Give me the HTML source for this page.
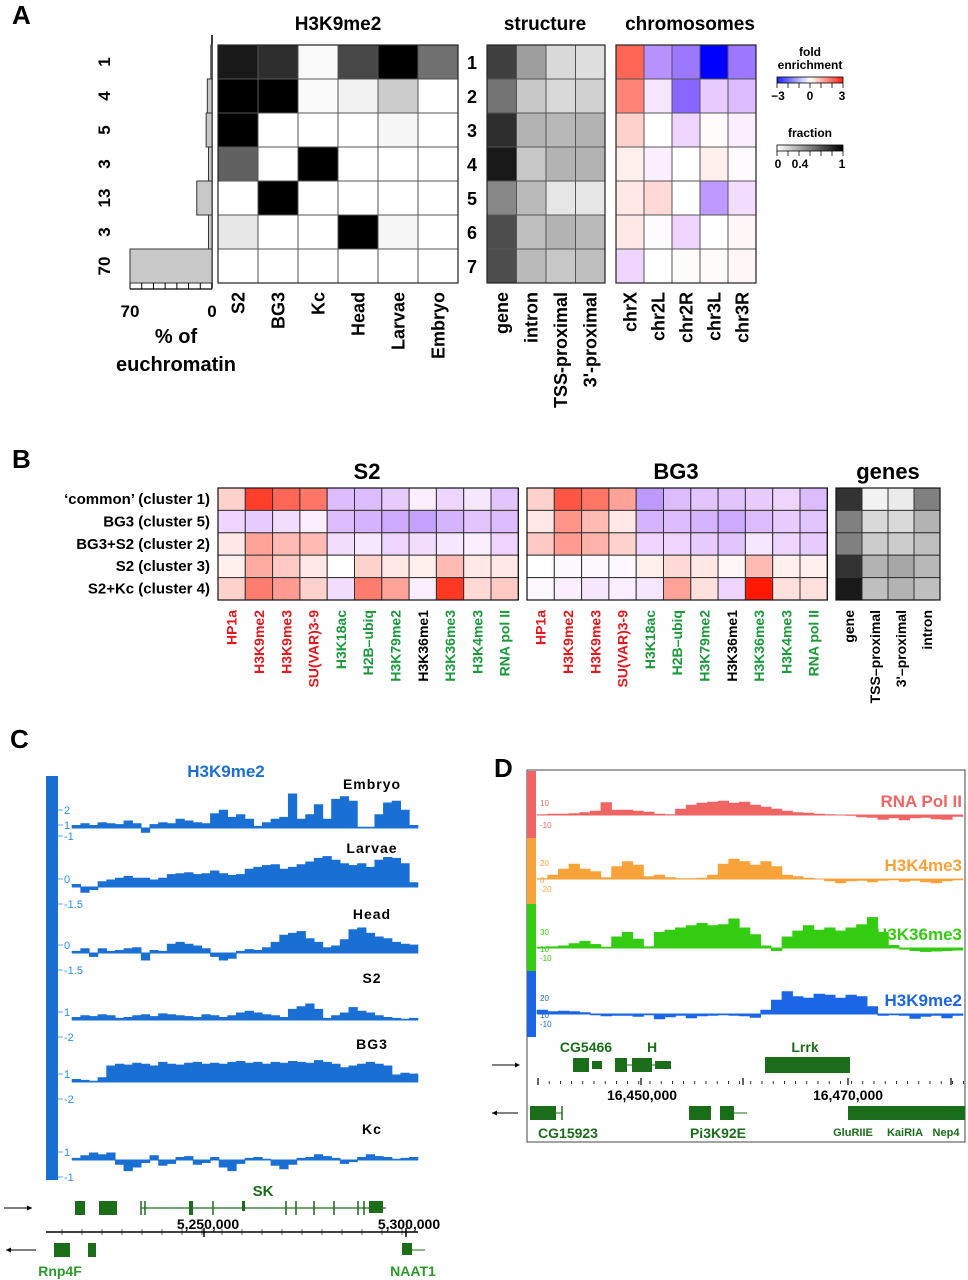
<!DOCTYPE html>
<html><head><meta charset="utf-8">
<style>
html,body{margin:0;padding:0;background:#fff;}
svg{display:block;font-family:"Liberation Sans",Arial,sans-serif;}
.b{font-weight:bold;}
</style></head>
<body>
<svg id="fig" width="968" height="1280" viewBox="0 0 968 1280" xmlns="http://www.w3.org/2000/svg">
<g id="gA"></g>
<g id="gB"></g>
<g id="gC"></g>
<g id="gD"></g>
</svg>
<script>
// ---------- Panel A data ----------
const clusterIds = ["1","2","3","4","5","6","7"];
const euchromatinPct = [1,4,5,3,13,3,70];
const tissues = ["S2","BG3","Kc","Head","Larvae","Embryo"];
const h3k9Frac = [
 [0.9,0.82,0.02,0.72,1.0,0.56],
 [1,1,0.02,0.05,0.2,0],
 [1,0,0,0,0.03,0],
 [0.62,0,1,0,0,0],
 [0,1,0,0,0,0],
 [0.1,0,0,1,0.03,0],
 [0,0,0,0,0,0]];
const structCats = ["gene","intron","TSS-proximal","3'-proximal"];
const structFrac = [
 [0.75,0.38,0.15,0.13],
 [0.55,0.22,0.15,0.18],
 [0.82,0.3,0.28,0.3],
 [0.9,0.22,0.3,0.3],
 [0.47,0.27,0.1,0.1],
 [0.7,0.25,0.3,0.27],
 [0.7,0.27,0.22,0.25]];
const chroms = ["chrX","chr2L","chr2R","chr3L","chr3R"];
const chromFold = [
 [2.0,-1.3,-1.6,-3,-1.6],
 [1.6,-0.3,-1.8,-0.6,-0.8],
 [0.6,0,-0.5,0.05,-0.2],
 [0.2,-0.2,0,0.2,-0.05],
 [0.3,0.5,0,-1.2,-0.4],
 [0.3,-0.05,-0.5,0,0.1],
 [-0.5,0,0.05,0.05,0.1]];
// ---------- Panel B data ----------
const clusterNames = ["\u2018common\u2019 (cluster 1)","BG3 (cluster 5)","BG3+S2 (cluster 2)","S2 (cluster 3)","S2+Kc (cluster 4)"];
const marks = ["HP1a","H3K9me2","H3K9me3","SU(VAR)3-9","H3K18ac","H2B\u2013ubiq","H3K79me2","H3K36me1","H3K36me3","H3K4me3","RNA pol II"];
const markColors = ["#e8161b","#e8161b","#e8161b","#e8161b","#1a9a3a","#1a9a3a","#1a9a3a","#000","#1a9a3a","#1a9a3a","#1a9a3a"];
const s2Fold = [
 [0.6,2.5,2.0,1.8,-0.8,-0.8,-0.6,-0.2,-0.5,-0.3,-0.7],
 [-0.5,-0.6,-0.4,-0.2,-0.8,-0.9,-1.0,-1.1,-0.9,-0.7,-0.8],
 [0.3,1.2,0.9,0.9,-0.4,-0.3,-0.5,-0.4,-0.3,-0.2,-0.5],
 [0.2,1.1,0.7,0.3,0,0.6,0.3,0.2,0.9,0.3,0.3],
 [0.6,1.7,1.3,0.6,-0.4,1.7,1.2,-0.2,2.6,0.5,0.7]];
const bg3Fold = [
 [0.6,2.2,1.8,1.2,-1.2,-0.8,-0.7,-0.7,-0.6,-0.5,-0.8],
 [0.3,1.4,0.9,0.3,-0.9,-0.8,-0.9,-1.0,-0.8,-0.6,-0.7],
 [0.7,1.3,1.0,0.6,-0.5,-0.5,-0.6,-0.7,-0.3,-0.5,-0.6],
 [0,-0.1,-0.1,-0.1,0.2,0.5,0.3,0.1,0.9,0.2,0.2],
 [-0.1,-0.2,-0.3,-0.2,-0.3,1.2,0.4,-0.5,3,0.4,0.4]];
const geneCats = ["gene","TSS\u2013proximal","3'\u2013proximal","intron"];
const geneFrac = [
 [0.8,0.05,0.08,0.5],
 [0.5,0.15,0.15,0.3],
 [0.5,0.2,0.2,0.25],
 [0.8,0.3,0.35,0.28],
 [0.9,0.25,0.3,0.25]];
// ---------- Panel C data ----------
const cTracks = ["Embryo","Larvae","Head","S2","BG3","Kc"];
const embryoSig = [0.3,0.5,0.3,0.6,0.5,0.4,0.8,0.5,-0.5,0.4,0.6,0.5,1.0,0.8,0.6,0.5,1.6,2.0,1.2,1.5,1.0,0.2,0.6,1.0,1.2,3.8,1.0,1.5,2.6,1.0,3.2,3.5,3.0,0.1,0.1,1.5,2.8,3.0,2.0,0.3];
const larvaeSig = [0.3,-0.6,-0.3,0.6,0.8,1.0,1.2,1.0,1.0,0.8,1.0,1.4,1.5,1.6,1.4,1.5,1.8,1.5,1.3,1.4,2.0,2.2,2.4,2.5,2.0,2.2,2.5,2.8,3.2,3.4,3.0,2.6,2.4,2.6,2.2,3.0,3.3,3.2,2.6,0.5];
const headSig = [0.2,0.5,-0.4,0.5,0.2,0.3,0.5,0.6,-0.8,0.3,0.2,1.0,1.2,1.0,0.8,0.5,-0.4,-0.8,-0.6,0.2,0.4,0.3,0.6,1.2,2.0,2.2,2.4,1.6,1.2,0.6,0.8,1.5,2.6,2.8,2.2,1.8,1.6,1.2,1.0,0.9];
const s2Sig = [0.3,0.5,0.4,0.6,0.5,0.2,0.3,0.5,0.6,0.4,0.7,0.6,0.5,0.4,0.3,0.6,0.5,0.3,0.5,0.8,1.0,0.8,0.6,0.5,0.3,1.2,1.5,1.8,1.2,0.2,0.5,0.8,1.4,1.0,0.8,0.5,0.3,0.2,0.1,0.2];
const bg3Sig = [0.3,0.2,0.1,0.5,1.8,2.0,1.9,2.1,2.0,1.8,2.2,2.0,1.9,2.1,2.2,2.0,2.1,2.0,2.2,2.3,2.1,2.2,2.0,2.2,2.1,2.3,2.2,2.1,2.4,2.2,2.0,1.6,1.8,2.0,2.2,2.0,1.8,0.8,1.0,0.9];
const kcSig = [0.2,0.5,0.8,0.6,0.8,-0.5,-1.2,-0.8,-0.3,0.5,-0.6,-0.4,0.3,0.4,-0.5,-0.3,0.3,-0.8,-1.2,-0.4,0.2,0.3,0.1,-0.6,-1.0,-0.5,0.2,0.3,0.6,0.4,0.2,-0.4,-0.2,0.3,0.6,0.4,0.3,0.1,0.2,0.3];
const cTickLabels = [["2","1","-1"],["0","-1.5"],["0","-1.5"],["1","-2"],["1","-2"],["1","-1"]];
// ---------- Panel D data ----------
const dTracks = ["RNA Pol II","H3K4me3","H3K36me3","H3K9me2"];
const polSig = [0.1,0.2,0.2,0.3,0.5,0.8,2.5,1.0,1.0,0.8,0.6,0.2,0.1,1.2,2.0,2.4,2.6,2.8,2.4,2.6,2.0,1.6,1.2,0.8,0.5,0.4,0.2,0.1,0,-0.1,-0.4,-0.5,-0.9,-0.6,-1.0,-0.6,-0.5,-0.8,-0.9,-0.3];
const k4Sig = [0.1,0.8,2.0,3.0,2.0,1.5,0.3,2.5,3.5,2.8,0.5,0.8,0.3,0.1,0.1,0.2,0.8,3.0,4.0,3.5,2.8,3.5,2.5,0.8,0.5,0.2,0,-0.4,-0.8,-0.4,-0.3,-0.6,-0.3,-0.2,-0.5,-0.3,-0.6,-0.8,-0.4,-0.2];
const k36Sig = [0.2,0.3,0.5,1.0,1.5,0.8,0.2,2.5,3.5,2.0,0.3,3.5,4.0,4.5,5.0,5.5,5.0,5.2,6.5,4.5,3.0,0.5,-0.6,2.5,3.8,5.0,4.0,4.5,3.8,4.5,5.2,6.8,3.5,0.6,-0.3,-0.6,-0.8,-0.7,-0.6,-0.5];
const k9Sig = [0.8,0.5,0.6,0.5,0.3,-0.2,-0.4,-0.3,-0.3,-0.5,-0.2,-1.0,-0.6,-0.3,-0.8,-0.4,-0.3,-0.2,-0.3,-0.4,-0.7,0.8,2.8,4.5,3.5,3.2,4.0,3.8,3.2,3.8,3.5,1.5,-0.3,-0.2,-0.3,-0.9,-0.5,-0.3,-0.8,-0.3];

const NS="http://www.w3.org/2000/svg";
function mk(parent,tag,attrs,text){const e=document.createElementNS(NS,tag);for(const k in attrs)e.setAttribute(k,attrs[k]);if(text!==undefined)e.textContent=text;parent.appendChild(e);return e;}
function gray(f){const v=Math.round(255*(1-f));return `rgb(${v},${v},${v})`;}
function foldCol(v){const t=Math.max(-1,Math.min(1,v/3));
 if(t>=0){return `rgb(255,${Math.round(255-230*t)},${Math.round(255-255*t)})`;}
 const s=-t;return `rgb(${Math.round(255*(1-Math.pow(s,1.5)))},${Math.round(255-255*s)},255)`;}

// ================= PANEL A =================
const A=document.getElementById('gA');
let t=mk(A,'text',{x:12,y:24,'font-size':26,class:'b'},'A');

const aTop=45,rowH=34;
function heat(g,x0,w,vals,colfn,name){
 vals.forEach((row,r)=>row.forEach((v,c)=>{
  const e=mk(g,'rect',{x:x0+c*w,y:aTop+r*rowH,width:w,height:rowH,fill:colfn(v),stroke:'#555','stroke-width':1});
  
  
 }));
 mk(g,'rect',{x:x0,y:aTop,width:w*vals[0].length,height:rowH*vals.length,fill:'none',stroke:'#222','stroke-width':1.2});
}
heat(A,218,40,h3k9Frac,gray,'h3k9me2');
heat(A,487,29.5,structFrac,gray,'structure');
heat(A,616,28,chromFold,foldCol,'chromosome');
[['H3K9me2',338],['structure',545],['chromosomes',690]].forEach(([s,x])=>{
 const e=mk(A,'text',{x:x,y:30,'font-size':19,'text-anchor':'middle',class:'b'},s);
 });
clusterIds.forEach((s,i)=>{const e=mk(A,'text',{x:467,y:aTop+i*rowH+24,'font-size':18,class:'b'},s);
 });
function colLabels(g,x0,w,labs,yTop,fs,colors){labs.forEach((s,i)=>{const x=x0+i*w+w/2+fs*0.35;
 const e=mk(g,'text',{x:x,y:yTop,'font-size':fs,'text-anchor':'end',class:'b',fill:colors?colors[i]:'#000',transform:`rotate(-90 ${x} ${yTop})`},s);
 });}
colLabels(A,218,40,tissues,292,18);
colLabels(A,487,29.5,structCats,292,18);
colLabels(A,616,28,chroms,292,18);
// histogram
const hx0=212,hx70=130;const hX=v=>hx0-(hx0-hx70)*v/70;
mk(A,'line',{x1:hx0,y1:aTop-10,x2:hx0,y2:aTop+7*rowH+5,stroke:'#000','stroke-width':1.5});
euchromatinPct.forEach((v,i)=>{
 const e=mk(A,'rect',{x:hX(v),y:aTop+i*rowH,width:hx0-hX(v),height:rowH,fill:'#c8c8c8',stroke:'#333','stroke-width':1});
 
 const x=110,y=aTop+i*rowH+rowH/2;
 const l=mk(A,'text',{x:x,y:y,'font-size':17,'text-anchor':'middle',class:'b',transform:`rotate(-90 ${x} ${y})`},String(v));
 
});
mk(A,'line',{x1:hx70,y1:289,x2:hx0,y2:289,stroke:'#000','stroke-width':1.2});
for(let v=0;v<=70;v+=10){mk(A,'line',{x1:hX(v),y1:283,x2:hX(v),y2:289,stroke:'#000','stroke-width':1});}
[[70,'70'],[0,'0']].forEach(([v,s])=>{const e=mk(A,'text',{x:hX(v),y:317,'font-size':17,'text-anchor':'middle',class:'b'},s);
 });
t=mk(A,'text',{x:176,y:343,'font-size':20,'text-anchor':'middle',class:'b'},'% of');
t=mk(A,'text',{x:176,y:371,'font-size':20,'text-anchor':'middle',class:'b'},'euchromatin');
// legends
const defs=mk(document.getElementById('fig'),'defs',{});
const g1=mk(defs,'linearGradient',{id:'gf'});mk(g1,'stop',{offset:'0','stop-color':'#2020ff'});mk(g1,'stop',{offset:'0.5','stop-color':'#fff'});mk(g1,'stop',{offset:'1','stop-color':'#ff2010'});
const g2=mk(defs,'linearGradient',{id:'gg'});mk(g2,'stop',{offset:'0','stop-color':'#fff'});mk(g2,'stop',{offset:'1','stop-color':'#000'});
function legend(y,title,grad,labs,name){
 const lg=mk(A,'g',{});
 title.forEach((s,i)=>mk(lg,'text',{x:810,y:y+i*13,'font-size':12,'text-anchor':'middle',class:'b'},s));
 const by=y+(title.length-1)*13+8;
 mk(lg,'rect',{x:777,y:by,width:66,height:6,fill:`url(#${grad})`,stroke:'#000','stroke-width':0.8});
 for(let k=0;k<=6;k++)mk(lg,'line',{x1:777+k*11,y1:by+6,x2:777+k*11,y2:by+11,stroke:'#000','stroke-width':0.8});
 labs.forEach(([x,s])=>mk(lg,'text',{x:x,y:by+23,'font-size':12,'text-anchor':'middle',class:'b'},s));
}
legend(56,['fold','enrichment'],'gf',[[778,'\u22123'],[810,'0'],[842,'3']],'fold-legend');
legend(137,['fraction'],'gg',[[778,'0'],[800,'0.4'],[842,'1']],'fraction-legend');

// ================= PANEL B =================
const B=document.getElementById('gB');
t=mk(B,'text',{x:12,y:468,'font-size':26,class:'b'},'B');
const bTop=488,bRow=22.4;
function heatB(x0,w,vals,colfn,name){vals.forEach((row,r)=>row.forEach((v,c)=>{
 const e=mk(B,'rect',{x:x0+c*w,y:bTop+r*bRow,width:w,height:bRow,fill:colfn(v),stroke:'#333','stroke-width':1});
 }));
 mk(B,'rect',{x:x0,y:bTop,width:w*vals[0].length,height:bRow*vals.length,fill:'none',stroke:'#111','stroke-width':1.2});}
heatB(218,27.3,s2Fold,foldCol,'s2');
heatB(527,27.3,bg3Fold,foldCol,'bg3');
heatB(836,26,geneFrac,gray,'genes');
[['S2',367],['BG3',676],['genes',888]].forEach(([s,x])=>{const e=mk(B,'text',{x:x,y:479,'font-size':22,'text-anchor':'middle',class:'b'},s);
 });
clusterNames.forEach((s,i)=>{const e=mk(B,'text',{x:210,y:bTop+i*bRow+16,'font-size':15,'text-anchor':'end',class:'b'},s);
 });
function colB(x0,w,labs,colors){labs.forEach((s,i)=>{const x=x0+i*w+w/2+5;const y=610;
 const e=mk(B,'text',{x:x,y:y,'font-size':14,'text-anchor':'end',class:'b',fill:colors?colors[i]:'#000',transform:`rotate(-90 ${x} ${y})`},s);
 });}
colB(218,27.3,marks,markColors);colB(527,27.3,marks,markColors);colB(836,26,geneCats);

// ================= PANEL C =================
const C=document.getElementById('gC');
t=mk(C,'text',{x:10,y:748,'font-size':26,class:'b'},'C');
t=mk(C,'rect',{x:46,y:776,width:12,height:404,fill:'#1a6fd4'});
t=mk(C,'text',{x:226,y:777,'font-size':17,'text-anchor':'middle',class:'b',fill:'#1a6fd4'},'H3K9me2');
const cSigs=[embryoSig,larvaeSig,headSig,s2Sig,bg3Sig,kcSig];
const cBase=[828,887,953,1020,1082,1160],cLab=[[372,789],[372,853],[372,919],[372,983],[372,1049],[372,1134]];
const cx0=72,cx1=418,cUnit=9;
function drawArea(g,sig,x0,x1,base,unit,col,name){
 const n=sig.length,dx=(x1-x0)/n;let d=`M${x0},${base}`;
 sig.forEach((v,i)=>{const y=base-v*unit;d+=` L${x0+i*dx},${y} L${x0+(i+1)*dx},${y}`;});
 d+=` L${x1},${base} Z`;
 const p=mk(g,'path',{d:d,fill:col,stroke:col,'stroke-width':0.6});
 
 
 mk(g,'line',{x1:x0,y1:base,x2:x1,y2:base,stroke:col,'stroke-width':1});
}
cTracks.forEach((nm,i)=>{
 drawArea(C,cSigs[i],cx0,cx1,cBase[i],cUnit,'#1a6fd4',nm.toLowerCase()+'-signal');
 const e=mk(C,'text',{x:cLab[i][0],y:cLab[i][1],'font-size':14,'text-anchor':'middle',class:'b','letter-spacing':1},nm);
 
 cTickLabels[i].forEach((s,k)=>{const y=k===0?cBase[i]-(i===0?18:8):cBase[i]+(i===0?(k===1?-3:8):17);
  const tl=mk(C,'text',{x:64,y:y+4,'font-size':11,fill:'#2a8fe8'},s);
  mk(C,'line',{x1:58,y1:y,x2:63,y2:y,stroke:'#2a8fe8','stroke-width':0.8});});
});
// genes C
const GC='#1a6e1a';
function arrow(g,y,dir){const x1=dir>0?4:36,x2=dir>0?32:6;
 mk(g,'line',{x1:x1,y1:y,x2:x2,y2:y,stroke:'#000','stroke-width':1});
 mk(g,'path',{d:dir>0?`M${x2},${y} l-5,-2.5 l0,5 z`:`M${x2},${y} l5,-2.5 l0,5 z`,fill:'#000'});}
const gcg=mk(C,'g',{});
arrow(gcg,1208,1);arrow(gcg,1250,-1);
[[75,1201,10,14],[99,1201,18,14],[189,1201,4,14],[242,1201,3,10],[369,1201,14,12]].forEach(([x,y,w,h])=>mk(gcg,'rect',{x:x,y:y,width:w,height:h,fill:GC}));
mk(gcg,'line',{x1:141,y1:1208,x2:386,y2:1208,stroke:GC,'stroke-width':1.2});
[141,145,213,286,296,314,334,358,364].forEach(x=>mk(gcg,'line',{x1:x,y1:1201,x2:x,y2:1215,stroke:GC,'stroke-width':1.5}));
mk(gcg,'text',{x:263,y:1196,'font-size':15,'text-anchor':'middle',class:'b',fill:GC},'SK');
mk(gcg,'line',{x1:46,y1:1232,x2:418,y2:1232,stroke:'#000','stroke-width':1.5});
for(let x=62;x<418;x+=20)mk(gcg,'line',{x1:x,y1:1229,x2:x,y2:1235,stroke:'#000','stroke-width':0.6});
mk(gcg,'line',{x1:204,y1:1228,x2:204,y2:1237,stroke:'#000','stroke-width':1.5});
mk(gcg,'line',{x1:406,y1:1228,x2:406,y2:1237,stroke:'#000','stroke-width':1.5});
mk(gcg,'text',{x:208,y:1229,'font-size':14,'text-anchor':'middle',class:'b'},'5,250,000');
mk(gcg,'text',{x:409,y:1229,'font-size':14,'text-anchor':'middle',class:'b'},'5,300,000');
[[54,1243,16,14],[88,1243,8,14],[402,1243,10,12]].forEach(([x,y,w,h])=>mk(gcg,'rect',{x:x,y:y,width:w,height:h,fill:GC}));
mk(gcg,'line',{x1:402,y1:1250,x2:425,y2:1250,stroke:GC,'stroke-width':1});
mk(gcg,'text',{x:60,y:1276,'font-size':14,'text-anchor':'middle',class:'b',fill:'#2a9a2a'},'Rnp4F');
mk(gcg,'text',{x:413,y:1276,'font-size':14,'text-anchor':'middle',class:'b',fill:'#2a9a2a'},'NAAT1');

// ================= PANEL D =================
const D=document.getElementById('gD');
t=mk(D,'text',{x:494,y:777,'font-size':26,class:'b'},'D');
t=mk(D,'rect',{x:527,y:770,width:438,height:372,fill:'none',stroke:'#444','stroke-width':1});
const dCols=['#f06464','#f8a23a','#33cc11','#1a66e6'];
const dSigs=[polSig,k4Sig,k36Sig,k9Sig];
const dBase=[815,879,948,1014],dUnit=[5,5,4.5,5];
const dBand=[[771,838],[838,904],[904,971],[971,1037]];
const dTicks=[['10','-10'],['20','0','-20'],['30','10','-10'],['20','10','-10']];
dTracks.forEach((nm,i)=>{
 mk(D,'rect',{x:527,y:dBand[i][0],width:9,height:dBand[i][1]-dBand[i][0],fill:dCols[i]});
 drawArea(D,dSigs[i],537,963,dBase[i],dUnit[i],dCols[i],nm.toLowerCase().replace(/ /g,'-')+'-signal');
 const e=mk(D,'text',{x:962,y:dBase[i]-8,'font-size':17,'text-anchor':'end',class:'b',fill:dCols[i]},nm);
 
 dTicks[i].forEach((s,k)=>{const n=dTicks[i].length;const y=k===n-1?dBase[i]+10:dBase[i]-(n===3?(k===0?16:0):(k===0?12:0))-(n===3&&k===1?-1:0);
  const tl=mk(D,'text',{x:540,y:y+3,'font-size':8,fill:dCols[i]},s);});
});
const gdg=mk(D,'g',{});
const GD='#1a6e1a';
mk(gdg,'line',{x1:492,y1:1065,x2:518,y2:1065,stroke:'#000','stroke-width':1});mk(gdg,'path',{d:'M520,1065 l-5,-2.5 l0,5 z',fill:'#000'});
mk(gdg,'line',{x1:518,y1:1113,x2:492,y2:1113,stroke:'#000','stroke-width':1});mk(gdg,'path',{d:'M492,1113 l5,-2.5 l0,5 z',fill:'#000'});
[[573,1058,16,14],[592,1061,10,8],[615,1058,12,14],[632,1058,20,14],[655,1061,16,8],[765,1057,85,16],[530,1106,26,14],[689,1106,22,14],[720,1106,14,14],[848,1106,117,14]].forEach(([x,y,w,h])=>mk(gdg,'rect',{x:x,y:y,width:w,height:h,fill:GD}));
mk(gdg,'line',{x1:626,y1:1065,x2:655,y2:1065,stroke:GD,'stroke-width':1});
mk(gdg,'line',{x1:556,y1:1113,x2:562,y2:1113,stroke:GD,'stroke-width':1});mk(gdg,'line',{x1:562,y1:1106,x2:562,y2:1120,stroke:GD,'stroke-width':1.5});
mk(gdg,'line',{x1:734,y1:1113,x2:747,y2:1113,stroke:GD,'stroke-width':1});
[['CG5466',586,1052],['H',652,1052],['Lrrk',805,1052]].forEach(([s,x,y])=>mk(gdg,'text',{x:x,y:y,'font-size':14,'text-anchor':'middle',class:'b',fill:GD},s));
for(let x=538;x<965;x+=11.2)mk(gdg,'line',{x1:x,y1:1081,x2:x,y2:1084,stroke:'#000','stroke-width':0.8});
[538,641,743,848,951].forEach(x=>mk(gdg,'line',{x1:x,y1:1078,x2:x,y2:1085,stroke:'#000','stroke-width':1.2}));
mk(gdg,'text',{x:642,y:1100,'font-size':14,'text-anchor':'middle',class:'b'},'16,450,000');
mk(gdg,'text',{x:848,y:1100,'font-size':14,'text-anchor':'middle',class:'b'},'16,470,000');
[['CG15923',568,1138,14],['Pi3K92E',718,1138,14],['GluRIIE',853,1136,11],['KaiRIA',905,1136,11],['Nep4',946,1136,11]].forEach(([s,x,y,f])=>mk(gdg,'text',{x:x,y:y,'font-size':f,'text-anchor':'middle',class:'b',fill:GD},s));
</script>
</body></html>
